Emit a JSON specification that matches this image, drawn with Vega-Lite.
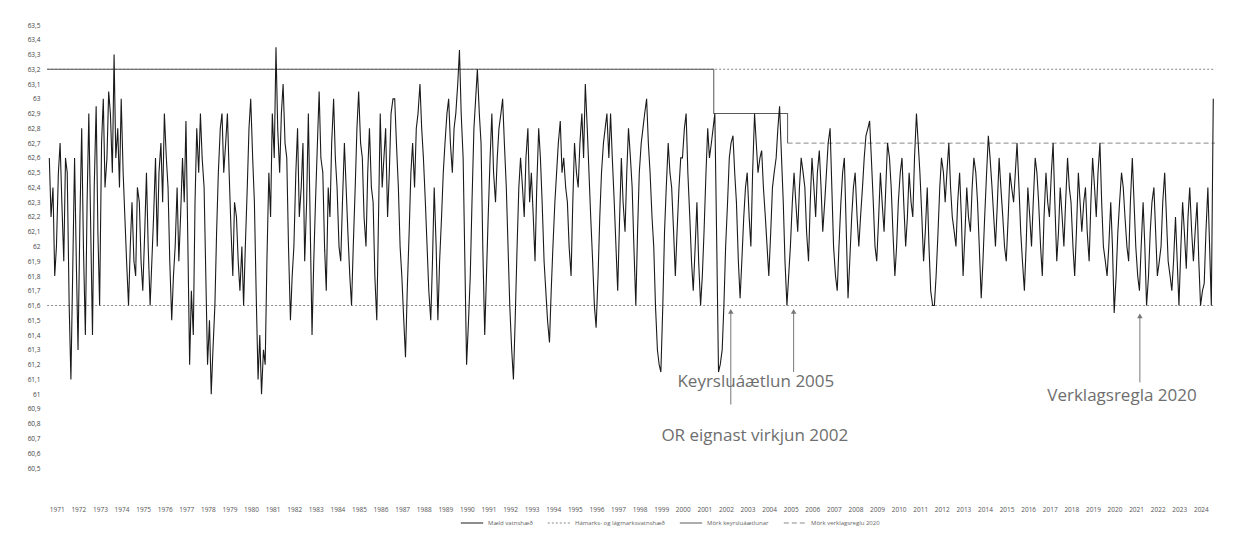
{
  "$schema": "https://vega.github.io/schema/vega-lite/v6.json",
  "width": 1170,
  "height": 443,
  "autosize": {"type": "none"},
  "padding": {"left": 45, "top": 25, "right": 34, "bottom": 70},
  "background": "white",
  "config": {"view": {"stroke": null}, "font": "Open Sans", "axis": {"labelOverlap": false, "labelBound": false, "labelSeparation": 0}},
  "datasets": {
    "wl": [
{"t":1971.0,"v":62.6},{"t":1971.08,"v":62.2},{"t":1971.17,"v":62.4},{"t":1971.25,"v":61.8},{"t":1971.33,"v":62.0},{"t":1971.42,"v":62.5},{"t":1971.5,"v":62.7},{"t":1971.58,"v":62.3},{"t":1971.67,"v":61.9},{"t":1971.75,"v":62.6},{"t":1971.83,"v":62.5},{"t":1971.92,"v":61.6},
{"t":1972.0,"v":61.1},{"t":1972.08,"v":61.8},{"t":1972.17,"v":62.6},{"t":1972.25,"v":61.9},{"t":1972.33,"v":61.3},{"t":1972.42,"v":62.2},{"t":1972.5,"v":62.8},{"t":1972.58,"v":62.0},{"t":1972.67,"v":61.4},{"t":1972.75,"v":62.3},{"t":1972.83,"v":62.9},{"t":1972.92,"v":62.1},
{"t":1973.0,"v":61.4},{"t":1973.08,"v":62.4},{"t":1973.17,"v":62.95},{"t":1973.25,"v":62.1},{"t":1973.33,"v":61.6},{"t":1973.42,"v":62.7},{"t":1973.5,"v":63.0},{"t":1973.58,"v":62.4},{"t":1973.67,"v":62.6},{"t":1973.75,"v":63.05},{"t":1973.83,"v":62.9},{"t":1973.92,"v":62.5},
{"t":1974.0,"v":63.3},{"t":1974.08,"v":62.6},{"t":1974.17,"v":62.8},{"t":1974.25,"v":62.4},{"t":1974.33,"v":63.0},{"t":1974.42,"v":62.5},{"t":1974.5,"v":62.2},{"t":1974.58,"v":61.9},{"t":1974.67,"v":61.6},{"t":1974.75,"v":62.0},{"t":1974.83,"v":62.3},{"t":1974.92,"v":61.9},
{"t":1975.0,"v":61.8},{"t":1975.08,"v":62.4},{"t":1975.17,"v":62.3},{"t":1975.25,"v":61.9},{"t":1975.33,"v":61.7},{"t":1975.42,"v":62.1},{"t":1975.5,"v":62.5},{"t":1975.58,"v":62.0},{"t":1975.67,"v":61.6},{"t":1975.75,"v":61.9},{"t":1975.83,"v":62.2},{"t":1975.92,"v":62.6},
{"t":1976.0,"v":62.0},{"t":1976.08,"v":62.5},{"t":1976.17,"v":62.7},{"t":1976.25,"v":62.3},{"t":1976.33,"v":62.9},{"t":1976.42,"v":62.6},{"t":1976.5,"v":62.4},{"t":1976.58,"v":61.9},{"t":1976.67,"v":61.5},{"t":1976.75,"v":61.8},{"t":1976.83,"v":62.0},{"t":1976.92,"v":62.4},
{"t":1977.0,"v":61.9},{"t":1977.08,"v":62.2},{"t":1977.17,"v":62.6},{"t":1977.25,"v":62.3},{"t":1977.33,"v":62.85},{"t":1977.42,"v":62.0},{"t":1977.5,"v":61.2},{"t":1977.58,"v":61.7},{"t":1977.67,"v":61.4},{"t":1977.75,"v":62.3},{"t":1977.83,"v":62.8},{"t":1977.92,"v":62.5},
{"t":1978.0,"v":62.9},{"t":1978.08,"v":62.6},{"t":1978.17,"v":62.4},{"t":1978.25,"v":61.8},{"t":1978.33,"v":61.2},{"t":1978.42,"v":61.5},{"t":1978.5,"v":61.0},{"t":1978.58,"v":61.3},{"t":1978.67,"v":61.6},{"t":1978.75,"v":62.1},{"t":1978.83,"v":62.5},{"t":1978.92,"v":62.8},
{"t":1979.0,"v":62.9},{"t":1979.08,"v":62.5},{"t":1979.17,"v":62.7},{"t":1979.25,"v":62.9},{"t":1979.33,"v":62.5},{"t":1979.42,"v":62.1},{"t":1979.5,"v":61.8},{"t":1979.58,"v":62.3},{"t":1979.67,"v":62.2},{"t":1979.75,"v":61.9},{"t":1979.83,"v":61.7},{"t":1979.92,"v":62.0},
{"t":1980.0,"v":61.6},{"t":1980.08,"v":62.0},{"t":1980.17,"v":62.4},{"t":1980.25,"v":62.8},{"t":1980.33,"v":63.0},{"t":1980.42,"v":62.6},{"t":1980.5,"v":62.3},{"t":1980.58,"v":61.7},{"t":1980.67,"v":61.1},{"t":1980.75,"v":61.4},{"t":1980.83,"v":61.0},{"t":1980.92,"v":61.3},
{"t":1981.0,"v":61.2},{"t":1981.08,"v":61.9},{"t":1981.17,"v":62.5},{"t":1981.25,"v":62.2},{"t":1981.33,"v":62.9},{"t":1981.42,"v":62.6},{"t":1981.5,"v":63.35},{"t":1981.58,"v":62.8},{"t":1981.67,"v":62.5},{"t":1981.75,"v":62.9},{"t":1981.83,"v":63.1},{"t":1981.92,"v":62.7},
{"t":1982.0,"v":62.6},{"t":1982.08,"v":62.0},{"t":1982.17,"v":61.5},{"t":1982.25,"v":61.8},{"t":1982.33,"v":62.0},{"t":1982.42,"v":62.5},{"t":1982.5,"v":62.8},{"t":1982.58,"v":62.2},{"t":1982.67,"v":62.4},{"t":1982.75,"v":62.7},{"t":1982.83,"v":61.9},{"t":1982.92,"v":62.3},
{"t":1983.0,"v":62.9},{"t":1983.08,"v":62.2},{"t":1983.17,"v":61.4},{"t":1983.25,"v":61.9},{"t":1983.33,"v":62.3},{"t":1983.42,"v":62.7},{"t":1983.5,"v":63.05},{"t":1983.58,"v":62.6},{"t":1983.67,"v":62.5},{"t":1983.75,"v":62.0},{"t":1983.83,"v":61.7},{"t":1983.92,"v":62.4},
{"t":1984.0,"v":62.2},{"t":1984.08,"v":62.7},{"t":1984.17,"v":63.0},{"t":1984.25,"v":62.6},{"t":1984.33,"v":62.4},{"t":1984.42,"v":62.0},{"t":1984.5,"v":61.9},{"t":1984.58,"v":62.3},{"t":1984.67,"v":62.7},{"t":1984.75,"v":62.4},{"t":1984.83,"v":62.1},{"t":1984.92,"v":61.8},
{"t":1985.0,"v":61.6},{"t":1985.08,"v":62.0},{"t":1985.17,"v":62.4},{"t":1985.25,"v":62.8},{"t":1985.33,"v":63.05},{"t":1985.42,"v":62.7},{"t":1985.5,"v":62.6},{"t":1985.58,"v":62.2},{"t":1985.67,"v":62.0},{"t":1985.75,"v":62.5},{"t":1985.83,"v":62.8},{"t":1985.92,"v":62.4},
{"t":1986.0,"v":62.3},{"t":1986.08,"v":61.8},{"t":1986.17,"v":61.5},{"t":1986.25,"v":62.2},{"t":1986.33,"v":62.9},{"t":1986.42,"v":62.4},{"t":1986.5,"v":62.6},{"t":1986.58,"v":62.8},{"t":1986.67,"v":62.2},{"t":1986.75,"v":62.5},{"t":1986.83,"v":62.9},{"t":1986.92,"v":63.0},
{"t":1987.0,"v":63.0},{"t":1987.08,"v":62.7},{"t":1987.17,"v":62.4},{"t":1987.25,"v":62.0},{"t":1987.33,"v":61.8},{"t":1987.42,"v":61.5},{"t":1987.5,"v":61.25},{"t":1987.58,"v":61.7},{"t":1987.67,"v":62.1},{"t":1987.75,"v":62.5},{"t":1987.83,"v":62.7},{"t":1987.92,"v":62.4},
{"t":1988.0,"v":62.8},{"t":1988.08,"v":62.9},{"t":1988.17,"v":63.1},{"t":1988.25,"v":62.8},{"t":1988.33,"v":62.6},{"t":1988.42,"v":62.3},{"t":1988.5,"v":62.0},{"t":1988.58,"v":61.7},{"t":1988.67,"v":61.5},{"t":1988.75,"v":61.9},{"t":1988.83,"v":62.4},{"t":1988.92,"v":62.0},
{"t":1989.0,"v":61.5},{"t":1989.08,"v":61.9},{"t":1989.17,"v":62.2},{"t":1989.25,"v":62.5},{"t":1989.33,"v":62.7},{"t":1989.42,"v":62.9},{"t":1989.5,"v":63.0},{"t":1989.58,"v":62.7},{"t":1989.67,"v":62.5},{"t":1989.75,"v":62.8},{"t":1989.83,"v":62.9},{"t":1989.92,"v":63.1},
{"t":1990.0,"v":63.33},{"t":1990.08,"v":62.9},{"t":1990.17,"v":62.6},{"t":1990.25,"v":61.9},{"t":1990.33,"v":61.2},{"t":1990.42,"v":61.5},{"t":1990.5,"v":61.8},{"t":1990.58,"v":62.3},{"t":1990.67,"v":62.8},{"t":1990.75,"v":63.0},{"t":1990.83,"v":63.2},{"t":1990.92,"v":62.9},
{"t":1991.0,"v":62.7},{"t":1991.08,"v":62.0},{"t":1991.17,"v":61.4},{"t":1991.25,"v":61.8},{"t":1991.33,"v":62.2},{"t":1991.42,"v":62.6},{"t":1991.5,"v":62.9},{"t":1991.58,"v":62.5},{"t":1991.67,"v":62.3},{"t":1991.75,"v":62.6},{"t":1991.83,"v":62.8},{"t":1991.92,"v":62.9},
{"t":1992.0,"v":63.0},{"t":1992.08,"v":62.7},{"t":1992.17,"v":62.4},{"t":1992.25,"v":62.0},{"t":1992.33,"v":61.6},{"t":1992.42,"v":61.3},{"t":1992.5,"v":61.1},{"t":1992.58,"v":61.5},{"t":1992.67,"v":62.0},{"t":1992.75,"v":62.4},{"t":1992.83,"v":62.6},{"t":1992.92,"v":62.4},
{"t":1993.0,"v":62.2},{"t":1993.08,"v":62.6},{"t":1993.17,"v":62.8},{"t":1993.25,"v":62.3},{"t":1993.33,"v":62.5},{"t":1993.42,"v":62.2},{"t":1993.5,"v":61.9},{"t":1993.58,"v":62.4},{"t":1993.67,"v":62.8},{"t":1993.75,"v":62.6},{"t":1993.83,"v":62.3},{"t":1993.92,"v":61.9},
{"t":1994.0,"v":61.7},{"t":1994.08,"v":61.5},{"t":1994.17,"v":61.35},{"t":1994.25,"v":61.7},{"t":1994.33,"v":62.0},{"t":1994.42,"v":62.3},{"t":1994.5,"v":62.5},{"t":1994.58,"v":62.7},{"t":1994.67,"v":62.85},{"t":1994.75,"v":62.5},{"t":1994.83,"v":62.6},{"t":1994.92,"v":62.4},
{"t":1995.0,"v":62.3},{"t":1995.08,"v":62.0},{"t":1995.17,"v":61.8},{"t":1995.25,"v":62.3},{"t":1995.33,"v":62.7},{"t":1995.42,"v":62.5},{"t":1995.5,"v":62.4},{"t":1995.58,"v":62.7},{"t":1995.67,"v":62.9},{"t":1995.75,"v":62.6},{"t":1995.83,"v":63.1},{"t":1995.92,"v":62.8},
{"t":1996.0,"v":62.5},{"t":1996.08,"v":62.2},{"t":1996.17,"v":61.9},{"t":1996.25,"v":61.6},{"t":1996.33,"v":61.45},{"t":1996.42,"v":61.8},{"t":1996.5,"v":62.2},{"t":1996.58,"v":62.5},{"t":1996.67,"v":62.7},{"t":1996.75,"v":62.8},{"t":1996.83,"v":62.9},{"t":1996.92,"v":62.6},
{"t":1997.0,"v":62.9},{"t":1997.08,"v":62.6},{"t":1997.17,"v":62.3},{"t":1997.25,"v":62.0},{"t":1997.33,"v":61.7},{"t":1997.42,"v":62.2},{"t":1997.5,"v":62.6},{"t":1997.58,"v":62.3},{"t":1997.67,"v":62.1},{"t":1997.75,"v":62.5},{"t":1997.83,"v":62.8},{"t":1997.92,"v":62.6},
{"t":1998.0,"v":62.4},{"t":1998.08,"v":62.0},{"t":1998.17,"v":61.6},{"t":1998.25,"v":62.1},{"t":1998.33,"v":62.5},{"t":1998.42,"v":62.7},{"t":1998.5,"v":62.8},{"t":1998.58,"v":62.9},{"t":1998.67,"v":63.0},{"t":1998.75,"v":62.7},{"t":1998.83,"v":62.5},{"t":1998.92,"v":62.2},
{"t":1999.0,"v":62.0},{"t":1999.08,"v":61.6},{"t":1999.17,"v":61.3},{"t":1999.25,"v":61.2},{"t":1999.33,"v":61.15},{"t":1999.42,"v":61.6},{"t":1999.5,"v":62.1},{"t":1999.58,"v":62.4},{"t":1999.67,"v":62.7},{"t":1999.75,"v":62.5},{"t":1999.83,"v":62.4},{"t":1999.92,"v":62.1},
{"t":2000.0,"v":61.8},{"t":2000.08,"v":62.1},{"t":2000.17,"v":62.4},{"t":2000.25,"v":62.6},{"t":2000.33,"v":62.6},{"t":2000.42,"v":62.8},{"t":2000.5,"v":62.9},{"t":2000.58,"v":62.5},{"t":2000.67,"v":62.2},{"t":2000.75,"v":61.9},{"t":2000.83,"v":61.7},{"t":2000.92,"v":62.0},
{"t":2001.0,"v":62.3},{"t":2001.08,"v":61.9},{"t":2001.17,"v":61.6},{"t":2001.25,"v":61.8},{"t":2001.33,"v":62.1},{"t":2001.42,"v":62.5},{"t":2001.5,"v":62.8},{"t":2001.58,"v":62.6},{"t":2001.67,"v":62.7},{"t":2001.75,"v":62.8},{"t":2001.83,"v":62.9},{"t":2001.92,"v":62.0},
{"t":2002.0,"v":61.15},{"t":2002.08,"v":61.2},{"t":2002.17,"v":61.3},{"t":2002.25,"v":61.6},{"t":2002.33,"v":62.0},{"t":2002.42,"v":62.3},{"t":2002.5,"v":62.6},{"t":2002.58,"v":62.7},{"t":2002.67,"v":62.75},{"t":2002.75,"v":62.5},{"t":2002.83,"v":62.3},{"t":2002.92,"v":61.9},
{"t":2003.0,"v":61.65},{"t":2003.08,"v":61.9},{"t":2003.17,"v":62.2},{"t":2003.25,"v":62.4},{"t":2003.33,"v":62.5},{"t":2003.42,"v":62.2},{"t":2003.5,"v":62.0},{"t":2003.58,"v":62.5},{"t":2003.67,"v":62.9},{"t":2003.75,"v":62.7},{"t":2003.83,"v":62.5},{"t":2003.92,"v":62.6},
{"t":2004.0,"v":62.65},{"t":2004.08,"v":62.4},{"t":2004.17,"v":62.2},{"t":2004.25,"v":62.0},{"t":2004.33,"v":61.8},{"t":2004.42,"v":62.1},{"t":2004.5,"v":62.4},{"t":2004.58,"v":62.5},{"t":2004.67,"v":62.6},{"t":2004.75,"v":62.8},{"t":2004.83,"v":62.95},{"t":2004.92,"v":62.6},
{"t":2005.0,"v":62.3},{"t":2005.08,"v":61.9},{"t":2005.17,"v":61.6},{"t":2005.25,"v":61.8},{"t":2005.33,"v":62.0},{"t":2005.42,"v":62.3},{"t":2005.5,"v":62.5},{"t":2005.58,"v":62.3},{"t":2005.67,"v":62.1},{"t":2005.75,"v":62.4},{"t":2005.83,"v":62.6},{"t":2005.92,"v":62.5},
{"t":2006.0,"v":62.4},{"t":2006.08,"v":62.1},{"t":2006.17,"v":61.9},{"t":2006.25,"v":62.3},{"t":2006.33,"v":62.6},{"t":2006.42,"v":62.4},{"t":2006.5,"v":62.2},{"t":2006.58,"v":62.5},{"t":2006.67,"v":62.65},{"t":2006.75,"v":62.4},{"t":2006.83,"v":62.1},{"t":2006.92,"v":62.3},
{"t":2007.0,"v":62.5},{"t":2007.08,"v":62.7},{"t":2007.17,"v":62.8},{"t":2007.25,"v":62.4},{"t":2007.33,"v":62.0},{"t":2007.42,"v":61.8},{"t":2007.5,"v":61.7},{"t":2007.58,"v":62.0},{"t":2007.67,"v":62.3},{"t":2007.75,"v":62.5},{"t":2007.83,"v":62.6},{"t":2007.92,"v":62.1},
{"t":2008.0,"v":61.65},{"t":2008.08,"v":61.9},{"t":2008.17,"v":62.2},{"t":2008.25,"v":62.4},{"t":2008.33,"v":62.5},{"t":2008.42,"v":62.2},{"t":2008.5,"v":62.0},{"t":2008.58,"v":62.2},{"t":2008.67,"v":62.4},{"t":2008.75,"v":62.6},{"t":2008.83,"v":62.75},{"t":2008.92,"v":62.8},
{"t":2009.0,"v":62.85},{"t":2009.08,"v":62.6},{"t":2009.17,"v":62.3},{"t":2009.25,"v":62.0},{"t":2009.33,"v":61.9},{"t":2009.42,"v":62.2},{"t":2009.5,"v":62.5},{"t":2009.58,"v":62.3},{"t":2009.67,"v":62.1},{"t":2009.75,"v":62.4},{"t":2009.83,"v":62.7},{"t":2009.92,"v":62.6},
{"t":2010.0,"v":62.4},{"t":2010.08,"v":62.1},{"t":2010.17,"v":61.8},{"t":2010.25,"v":62.0},{"t":2010.33,"v":62.3},{"t":2010.42,"v":62.5},{"t":2010.5,"v":62.6},{"t":2010.58,"v":62.3},{"t":2010.67,"v":62.0},{"t":2010.75,"v":62.2},{"t":2010.83,"v":62.5},{"t":2010.92,"v":62.3},
{"t":2011.0,"v":62.2},{"t":2011.08,"v":62.6},{"t":2011.17,"v":62.9},{"t":2011.25,"v":62.7},{"t":2011.33,"v":62.5},{"t":2011.42,"v":62.2},{"t":2011.5,"v":61.9},{"t":2011.58,"v":62.1},{"t":2011.67,"v":62.4},{"t":2011.75,"v":62.0},{"t":2011.83,"v":61.7},{"t":2011.92,"v":61.6},
{"t":2012.0,"v":61.6},{"t":2012.08,"v":61.8},{"t":2012.17,"v":62.1},{"t":2012.25,"v":62.4},{"t":2012.33,"v":62.6},{"t":2012.42,"v":62.5},{"t":2012.5,"v":62.3},{"t":2012.58,"v":62.5},{"t":2012.67,"v":62.7},{"t":2012.75,"v":62.4},{"t":2012.83,"v":62.2},{"t":2012.92,"v":62.1},
{"t":2013.0,"v":62.0},{"t":2013.08,"v":62.3},{"t":2013.17,"v":62.5},{"t":2013.25,"v":62.2},{"t":2013.33,"v":61.8},{"t":2013.42,"v":62.1},{"t":2013.5,"v":62.4},{"t":2013.58,"v":62.2},{"t":2013.67,"v":62.1},{"t":2013.75,"v":62.4},{"t":2013.83,"v":62.6},{"t":2013.92,"v":62.5},
{"t":2014.0,"v":62.3},{"t":2014.08,"v":62.0},{"t":2014.17,"v":61.65},{"t":2014.25,"v":61.9},{"t":2014.33,"v":62.2},{"t":2014.42,"v":62.5},{"t":2014.5,"v":62.75},{"t":2014.58,"v":62.6},{"t":2014.67,"v":62.4},{"t":2014.75,"v":62.2},{"t":2014.83,"v":62.0},{"t":2014.92,"v":62.3},
{"t":2015.0,"v":62.6},{"t":2015.08,"v":62.4},{"t":2015.17,"v":62.2},{"t":2015.25,"v":62.0},{"t":2015.33,"v":61.9},{"t":2015.42,"v":62.2},{"t":2015.5,"v":62.5},{"t":2015.58,"v":62.4},{"t":2015.67,"v":62.3},{"t":2015.75,"v":62.5},{"t":2015.83,"v":62.7},{"t":2015.92,"v":62.4},
{"t":2016.0,"v":62.1},{"t":2016.08,"v":61.9},{"t":2016.17,"v":61.7},{"t":2016.25,"v":62.0},{"t":2016.33,"v":62.4},{"t":2016.42,"v":62.2},{"t":2016.5,"v":62.0},{"t":2016.58,"v":62.3},{"t":2016.67,"v":62.6},{"t":2016.75,"v":62.5},{"t":2016.83,"v":62.3},{"t":2016.92,"v":62.0},
{"t":2017.0,"v":61.8},{"t":2017.08,"v":62.2},{"t":2017.17,"v":62.5},{"t":2017.25,"v":62.3},{"t":2017.33,"v":62.2},{"t":2017.42,"v":62.5},{"t":2017.5,"v":62.7},{"t":2017.58,"v":62.3},{"t":2017.67,"v":61.9},{"t":2017.75,"v":62.1},{"t":2017.83,"v":62.4},{"t":2017.92,"v":62.2},
{"t":2018.0,"v":62.0},{"t":2018.08,"v":62.3},{"t":2018.17,"v":62.6},{"t":2018.25,"v":62.4},{"t":2018.33,"v":62.3},{"t":2018.42,"v":62.0},{"t":2018.5,"v":61.8},{"t":2018.58,"v":62.1},{"t":2018.67,"v":62.5},{"t":2018.75,"v":62.3},{"t":2018.83,"v":62.1},{"t":2018.92,"v":62.3},
{"t":2019.0,"v":62.4},{"t":2019.08,"v":62.1},{"t":2019.17,"v":61.9},{"t":2019.25,"v":62.3},{"t":2019.33,"v":62.6},{"t":2019.42,"v":62.4},{"t":2019.5,"v":62.2},{"t":2019.58,"v":62.5},{"t":2019.67,"v":62.7},{"t":2019.75,"v":62.3},{"t":2019.83,"v":62.0},{"t":2019.92,"v":61.9},
{"t":2020.0,"v":61.8},{"t":2020.08,"v":62.0},{"t":2020.17,"v":62.3},{"t":2020.25,"v":62.0},{"t":2020.33,"v":61.55},{"t":2020.42,"v":61.8},{"t":2020.5,"v":62.1},{"t":2020.58,"v":62.3},{"t":2020.67,"v":62.5},{"t":2020.75,"v":62.4},{"t":2020.83,"v":62.2},{"t":2020.92,"v":62.0},
{"t":2021.0,"v":61.9},{"t":2021.08,"v":62.3},{"t":2021.17,"v":62.6},{"t":2021.25,"v":62.3},{"t":2021.33,"v":62.0},{"t":2021.42,"v":61.8},{"t":2021.5,"v":61.7},{"t":2021.58,"v":62.0},{"t":2021.67,"v":62.3},{"t":2021.75,"v":62.0},{"t":2021.83,"v":61.6},{"t":2021.92,"v":61.8},
{"t":2022.0,"v":62.1},{"t":2022.08,"v":62.3},{"t":2022.17,"v":62.4},{"t":2022.25,"v":62.1},{"t":2022.33,"v":61.8},{"t":2022.42,"v":61.9},{"t":2022.5,"v":62.0},{"t":2022.58,"v":62.3},{"t":2022.67,"v":62.5},{"t":2022.75,"v":62.2},{"t":2022.83,"v":61.9},{"t":2022.92,"v":61.8},
{"t":2023.0,"v":61.7},{"t":2023.08,"v":61.9},{"t":2023.17,"v":62.2},{"t":2023.25,"v":61.9},{"t":2023.33,"v":61.6},{"t":2023.42,"v":62.0},{"t":2023.5,"v":62.3},{"t":2023.58,"v":62.1},{"t":2023.67,"v":61.85},{"t":2023.75,"v":62.2},{"t":2023.83,"v":62.4},{"t":2023.92,"v":62.1},
{"t":2024.0,"v":61.9},{"t":2024.08,"v":62.1},{"t":2024.17,"v":62.3},{"t":2024.25,"v":61.9},{"t":2024.33,"v":61.6},{"t":2024.42,"v":61.7},{"t":2024.5,"v":61.75},{"t":2024.58,"v":62.1},{"t":2024.67,"v":62.4},{"t":2024.75,"v":62.0},{"t":2024.83,"v":61.6},{"t":2024.92,"v":63.0}
    ],
    "lim": [
      {"t":1970.9,"v":63.2,"s":"Hámarks- og lágmarksvatnshæð","g":"a"},
      {"t":2025.0,"v":63.2,"s":"Hámarks- og lágmarksvatnshæð","g":"a"},
      {"t":1970.9,"v":61.6,"s":"Hámarks- og lágmarksvatnshæð","g":"b"},
      {"t":2025.0,"v":61.6,"s":"Hámarks- og lágmarksvatnshæð","g":"b"},
      {"t":1970.9,"v":63.2,"s":"Mörk keyrsluáætlunar","g":"c"},
      {"t":2001.78,"v":63.2,"s":"Mörk keyrsluáætlunar","g":"c"},
      {"t":2001.781,"v":62.9,"s":"Mörk keyrsluáætlunar","g":"c"},
      {"t":2005.2,"v":62.9,"s":"Mörk keyrsluáætlunar","g":"c"},
      {"t":2005.201,"v":62.7,"s":"Mörk keyrsluáætlunar","g":"c"},
      {"t":2005.201,"v":62.7,"s":"Mörk verklagsreglu 2020","g":"d"},
      {"t":2025.0,"v":62.7,"s":"Mörk verklagsreglu 2020","g":"d"}
    ],
    "notes": [
      {"label":"OR eignast virkjun 2002","tx":2003.68,"ty":60.72,"ax":2002.57,"a0":60.93,"a1":61.56,"al":"center"},
      {"label":"Keyrsluáætlun 2005","tx":2003.73,"ty":61.08,"ax":2005.48,"a0":61.15,"a1":61.56,"al":"left"},
      {"label":"Verklagsregla 2020","tx":2020.69,"ty":60.99,"ax":2021.52,"a0":61.08,"a1":61.53,"al":"center"}
    ]
  },
  "encoding": {
    "x": {"field": "t", "type": "quantitative", "scale": {"domain": [1970.8, 2025.0], "nice": false, "zero": false},
      "axis": {"title": null, "values": [1971,1972,1973,1974,1975,1976,1977,1978,1979,1980,1981,1982,1983,1984,1985,1986,1987,1988,1989,1990,1991,1992,1993,1994,1995,1996,1997,1998,1999,2000,2001,2002,2003,2004,2005,2006,2007,2008,2009,2010,2011,2012,2013,2014,2015,2016,2017,2018,2019,2020,2021,2022,2023,2024],
        "format": "d", "labelFontSize": 6.5, "labelColor": "#555", "labelPadding": 38, "labelOverlap": false, "labelSeparation": 0, "labelAngle": 0, "labelAlign": "left", "domain": false, "ticks": false, "grid": false}},
    "y": {"field": "v", "type": "quantitative", "scale": {"domain": [60.5, 63.5], "nice": false, "zero": false},
      "axis": {"title": null, "values": [60.5,60.6,60.7,60.8,60.9,61,61.1,61.2,61.3,61.4,61.5,61.6,61.7,61.8,61.9,62,62.1,62.2,62.3,62.4,62.5,62.6,62.7,62.8,62.9,63,63.1,63.2,63.3,63.4,63.5],
        "labelExpr": "replace(toString(round(datum.value*10)/10), '.', ',')", "labelFontSize": 6.5, "labelColor": "#444", "labelPadding": 5, "labelOverlap": false, "labelSeparation": 0, "domain": false, "ticks": false, "grid": false}}
  },
  "layer": [
    {
      "data": {"name": "lim"},
      "mark": {"type": "line", "clip": true},
      "encoding": {
        "color": {"field": "s", "type": "nominal",
          "scale": {"domain": ["Mæld vatnshæð", "Hámarks- og lágmarksvatnshæð", "Mörk keyrsluáætlunar", "Mörk verklagsreglu 2020"], "range": ["#1a1a1a", "#8a8a8a", "#5a5a5a", "#8a8a8a"]},
          "legend": {"title": null, "orient": "none", "legendX": 415, "legendY": 486, "direction": "horizontal", "labelFontSize": 6, "labelColor": "#666", "symbolType": "stroke", "symbolSize": 500, "columnPadding": 12, "symbolStrokeWidth": 1.2}},
        "strokeDash": {"field": "s", "type": "nominal",
          "scale": {"domain": ["Mæld vatnshæð", "Hámarks- og lágmarksvatnshæð", "Mörk keyrsluáætlunar", "Mörk verklagsreglu 2020"], "range": [[1, 0], [2, 2], [1, 0], [5, 3]]}},
        "strokeWidth": {"field": "s", "type": "nominal", "legend": null,
          "scale": {"domain": ["Mæld vatnshæð", "Hámarks- og lágmarksvatnshæð", "Mörk keyrsluáætlunar", "Mörk verklagsreglu 2020"], "range": [1.1, 1, 1.6, 1]}},
        "detail": {"field": "g"}
      }
    },
    {
      "data": {"name": "wl"},
      "mark": {"type": "line", "clip": true},
      "encoding": {
        "color": {"datum": "Mæld vatnshæð", "type": "nominal"},
        "strokeDash": {"datum": "Mæld vatnshæð", "type": "nominal"},
        "strokeWidth": {"datum": "Mæld vatnshæð", "type": "nominal"}
      }
    },
    {
      "data": {"name": "notes"},
      "mark": {"type": "rule", "color": "#777", "strokeWidth": 1},
      "encoding": {
        "x": {"field": "ax", "type": "quantitative"},
        "y": {"field": "a0", "type": "quantitative"},
        "y2": {"field": "a1"}
      }
    },
    {
      "data": {"name": "notes"},
      "mark": {"type": "point", "shape": "triangle-up", "filled": true, "color": "#777", "size": 30, "opacity": 1},
      "encoding": {
        "x": {"field": "ax", "type": "quantitative"},
        "y": {"field": "a1", "type": "quantitative"}
      }
    },
    {
      "data": {"name": "notes"},
      "mark": {"type": "text", "fontSize": 17, "color": "#6e6e6e", "font": "Open Sans", "baseline": "middle"},
      "encoding": {
        "x": {"field": "tx", "type": "quantitative"},
        "y": {"field": "ty", "type": "quantitative"},
        "text": {"field": "label"},
        "align": {"field": "al", "type": "nominal", "scale": null}
      }
    }
  ]
}
